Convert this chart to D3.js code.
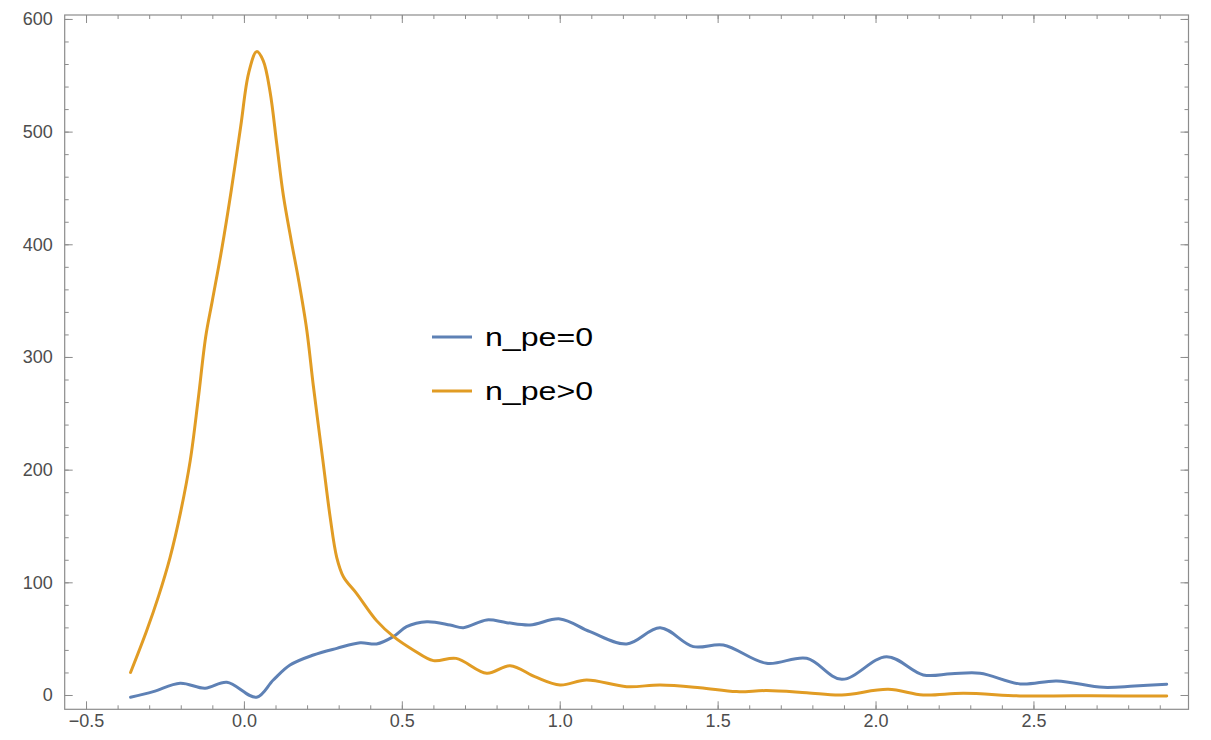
<!DOCTYPE html>
<html>
<head>
<meta charset="utf-8">
<script src="https://cdn.jsdelivr.net/npm/d3@7"></script>
<style>
  html, body { margin: 0; padding: 0; background: #fff; }
  svg { display: block; }
  .tick text { font-family: "Liberation Sans", Arial, sans-serif; font-size: 18px; fill: #4d4d4d; }
  .tick line { stroke: #8c8c8c; }
  .legend text { font-family: "Liberation Sans", Arial, sans-serif; font-size: 25px; fill: #000; }
</style>
</head>
<body>
<div id="chart"></div>
<script>
// series: [x, count]
const seriesNames = ['n_pe=0', 'n_pe>0'];
const seriesColors = ['#5E81B5', '#E19C24'];

const blueData = [
  [-0.359, -2], [-0.287, 3], [-0.202, 10.4], [-0.123, 6], [-0.054, 11.3], [0.04, -2],
  [0.093, 13.3], [0.146, 26.6], [0.22, 35.5], [0.294, 41.4], [0.368, 46.4], [0.42, 45.3],
  [0.473, 51.8], [0.515, 60.6], [0.579, 65], [0.653, 62.1], [0.695, 59.7], [0.769, 66.6],
  [0.832, 64.2], [0.906, 62.1], [1.001, 67.5], [1.096, 56.2], [1.212, 45.3], [1.318, 59.7],
  [1.423, 42.9], [1.518, 44.4], [1.655, 28.1], [1.782, 32.6], [1.893, 13.9], [2.035, 34],
  [2.151, 17.8], [2.24, 18.8], [2.331, 19.3], [2.458, 9.8], [2.574, 12.4], [2.721, 6.8],
  [2.82, 8], [2.922, 9.5]
];

const orangeData = [
  [-0.359, 20], [-0.308, 57], [-0.27, 88], [-0.234, 122], [-0.2, 163], [-0.17, 208],
  [-0.145, 262], [-0.121, 318], [-0.1, 350], [-0.07, 396], [-0.04, 448], [-0.01, 505],
  [0.015, 552], [0.0405, 571], [0.061, 563], [0.083, 535], [0.104, 489], [0.125, 443],
  [0.15, 403], [0.174, 367], [0.199, 324], [0.22, 274], [0.251, 206], [0.273, 158],
  [0.294, 122], [0.315, 105], [0.357, 90], [0.42, 66], [0.473, 52], [0.536, 40],
  [0.6, 30.5], [0.672, 32.5], [0.769, 19.3], [0.843, 26], [0.923, 16], [1.001, 8.9],
  [1.085, 13.3], [1.212, 7.4], [1.318, 8.9], [1.444, 6.5], [1.56, 3], [1.655, 3.9],
  [1.782, 2], [1.893, 0], [2.04, 5], [2.151, 0], [2.278, 1.5], [2.468, -0.9],
  [2.626, -0.6], [2.785, -0.9], [2.922, -0.9]
];

const xMajor = [-0.5, 0, 0.5, 1, 1.5, 2, 2.5];
const xMinor = d3.range(-5, 30).map(i => i / 10);
const yMajor = [0, 100, 200, 300, 400, 500, 600];
const yMinor = d3.range(0, 601, 20);

const W = 1211, H = 740;
const frame = { left: 64.7, right: 1188.5, top: 15, bottom: 709.3 };

const svg = d3.select('#chart').append('svg')
  .attr('width', W).attr('height', H);

const x = d3.scaleLinear().domain([-0.5675, 2.991]).range([frame.left, frame.right]);
const y = d3.scaleLinear().domain([-12.7, 603.5]).range([frame.bottom, frame.top]);

// ticks, all pointing inward, labels only bottom/left
function addAxis(axis, tx, ty, labels) {
  const g = svg.append('g').attr('transform', `translate(${tx},${ty})`).call(axis);
  g.select('.domain').remove();
  if (!labels) g.selectAll('text').remove();
  return g;
}

const fmtX = d3.format('.1f');
addAxis(d3.axisBottom(x).tickValues(xMinor).tickSize(-4).tickFormat(''), 0, frame.bottom, false);
addAxis(d3.axisBottom(x).tickValues(xMajor).tickSize(-8).tickPadding(5).tickFormat(fmtX), 0, frame.bottom, true);
addAxis(d3.axisTop(x).tickValues(xMinor).tickSize(-4), 0, frame.top, false);
addAxis(d3.axisTop(x).tickValues(xMajor).tickSize(-8), 0, frame.top, false);

addAxis(d3.axisLeft(y).tickValues(yMinor).tickSize(-4).tickFormat(''), frame.left, 0, false);
addAxis(d3.axisLeft(y).tickValues(yMajor).tickSize(-8).tickPadding(12), frame.left, 0, true);
addAxis(d3.axisRight(y).tickValues(yMinor).tickSize(-4), frame.right, 0, false);
addAxis(d3.axisRight(y).tickValues(yMajor).tickSize(-8), frame.right, 0, false);

// frame
svg.append('rect')
  .attr('x', frame.left).attr('y', frame.top)
  .attr('width', frame.right - frame.left).attr('height', frame.bottom - frame.top)
  .attr('fill', 'none').attr('stroke', '#8c8c8c').attr('stroke-width', 1.2);

const line = d3.line()
  .x(d => x(d[0]))
  .y(d => y(d[1]))
  .curve(d3.curveCatmullRom.alpha(0.5));

[blueData, orangeData].forEach((data, i) => {
  svg.append('path')
    .datum(data)
    .attr('fill', 'none')
    .attr('stroke', seriesColors[i])
    .attr('stroke-width', 3)
    .attr('stroke-linejoin', 'round')
    .attr('stroke-linecap', 'round')
    .attr('d', line);
});

// legend
const legend = svg.append('g').attr('class', 'legend').attr('transform', 'translate(432,337)');
seriesNames.forEach((name, i) => {
  const row = legend.append('g').attr('transform', `translate(0,${i * 54})`);
  row.append('line')
    .attr('x1', 0).attr('x2', 40).attr('y1', 0).attr('y2', 0)
    .attr('stroke', seriesColors[i]).attr('stroke-width', 3);
  row.append('text')
    .attr('x', 53).attr('y', 9)
    .attr('textLength', 108).attr('lengthAdjust', 'spacingAndGlyphs')
    .text(name);
});
</script>
</body>
</html>
